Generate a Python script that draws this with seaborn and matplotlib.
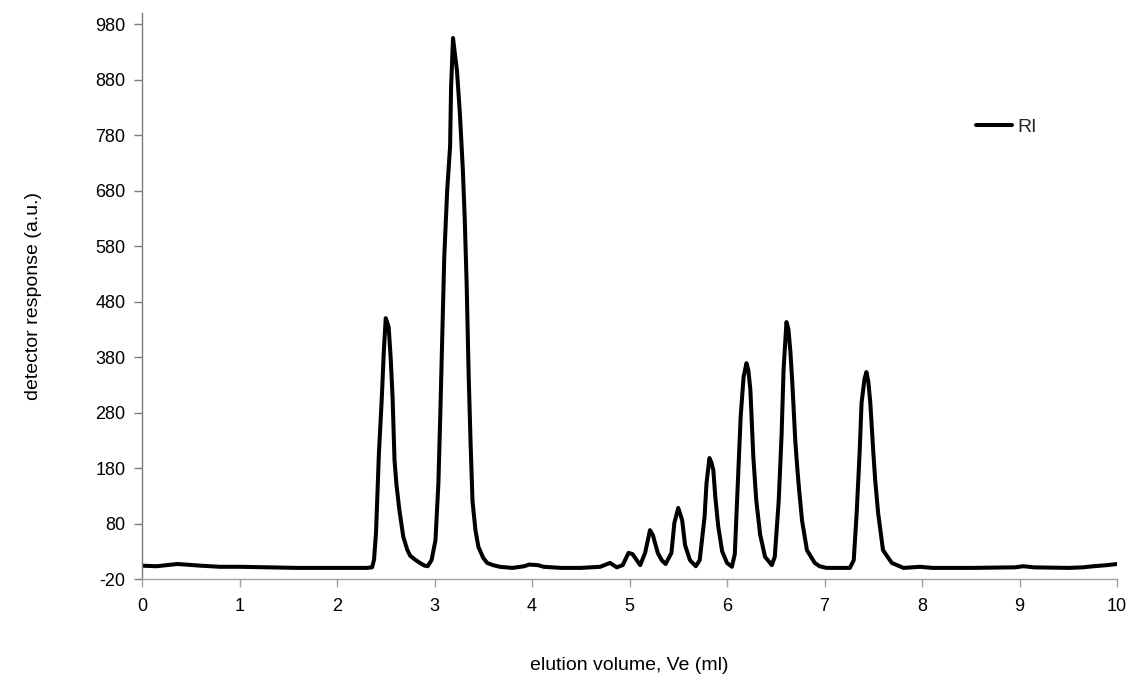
import matplotlib
matplotlib.use("Agg")
import matplotlib.pyplot as plt
import seaborn as sns
import pandas as pd

elution_ml = [0.00, 0.15, 0.30, 0.36, 0.45, 0.60, 0.80, 1.00, 1.30, 1.60, 2.00, 2.30,
              2.36, 2.38, 2.40, 2.43, 2.46, 2.48, 2.50, 2.53, 2.55, 2.57, 2.59, 2.61,
              2.64, 2.68, 2.72, 2.75, 2.80, 2.85, 2.90, 2.93, 2.97, 3.01, 3.04, 3.06,
              3.08, 3.10, 3.13, 3.16, 3.17, 3.19, 3.21, 3.23, 3.26, 3.29, 3.31, 3.33,
              3.35, 3.37, 3.39, 3.42, 3.45, 3.50, 3.54, 3.60, 3.67, 3.80, 3.92, 3.97,
              4.06, 4.12, 4.30, 4.50, 4.70, 4.80, 4.87, 4.93, 4.99, 5.03, 5.07, 5.11,
              5.16, 5.21, 5.24, 5.29, 5.33, 5.37, 5.43, 5.46, 5.50, 5.54, 5.57, 5.62,
              5.68, 5.72, 5.77, 5.79, 5.82, 5.84, 5.86, 5.88, 5.91, 5.95, 6.00, 6.05,
              6.08, 6.11, 6.14, 6.17, 6.20, 6.22, 6.24, 6.27, 6.30, 6.34, 6.39, 6.46,
              6.49, 6.53, 6.56, 6.58, 6.61, 6.63, 6.65, 6.67, 6.70, 6.72, 6.74, 6.77,
              6.82, 6.90, 6.95, 7.02, 7.26, 7.30, 7.33, 7.36, 7.38, 7.41, 7.43, 7.45,
              7.47, 7.50, 7.52, 7.55, 7.60, 7.69, 7.81, 7.98, 8.11, 8.50, 8.95, 9.04,
              9.15, 9.50, 9.65, 9.76, 9.90, 10.00]
ri_response = [4, 3, 6, 7, 6, 4, 2, 2, 1, 0, 0, 0,
               1, 15, 63, 207, 308, 390, 450, 434, 380, 308, 194, 150,
               104, 56, 33, 22, 15, 9, 4, 3, 14, 50, 153, 280,
               420, 560, 680, 760, 866, 955, 925, 897, 820, 720, 630, 510,
               350, 225, 120, 68, 38, 18, 9, 5, 2, 0, 3, 6,
               5, 2, 0, 0, 2, 9, 1, 5, 27, 25, 15, 5,
               27, 68, 59, 27, 14, 7, 27, 81, 108, 86, 41, 14,
               3, 14, 92, 153, 198, 190, 176, 128, 75, 30, 9, 2,
               25, 150, 272, 344, 369, 355, 320, 200, 122, 60, 20, 5,
               20, 120, 240, 357, 443, 430, 390, 333, 230, 182, 140, 85,
               32, 9, 3, 0, 0, 14, 99, 207, 297, 340, 353, 335,
               297, 210, 158, 99, 32, 9, 0, 2, 0, 0, 1, 3,
               1, 0, 1, 3, 5, 7]
series_name = "RI"
x_ticks = list(range(0, 11))
y_ticks = list(range(-20, 981, 100))

df = pd.DataFrame({"x": elution_ml, "y": ri_response})

sns.set_theme(style="ticks")
plt.rcParams["font.family"] = ["Liberation Sans", "DejaVu Sans"]

fig = plt.figure(figsize=(11.3, 6.84), dpi=100)
ax = fig.add_axes([142 / 1130, 1 - 579 / 684, 975 / 1130, 566 / 684])

sns.lineplot(data=df, x="x", y="y", ax=ax, color="black", linewidth=2.9,
             label=series_name, estimator=None)

ax.set_xlim(0, 10)
ax.set_ylim(-20, 1000)
ax.set_xticks(x_ticks)
ax.set_yticks(y_ticks)
ax.set_xticklabels([str(t) for t in x_ticks], fontsize=13)
ax.set_yticklabels([str(t) for t in y_ticks], fontsize=13)

for s in ["top", "right"]:
    ax.spines[s].set_visible(False)
ax.spines["left"].set_color("#7a7a7a")
ax.spines["bottom"].set_color("#a0a0a0")
ax.spines["left"].set_linewidth(1.0)
ax.spines["bottom"].set_linewidth(1.0)
ax.tick_params(axis="x", direction="out", length=6, width=1, colors="#a0a0a0",
               labelcolor="black", pad=8)
ax.tick_params(axis="y", direction="out", length=6, width=1, colors="#7a7a7a",
               labelcolor="black", pad=6)

ax.set_xlabel("elution volume, Ve (ml)", fontsize=14, labelpad=30, color="black")
ax.set_ylabel("detector response (a.u.)", fontsize=14, labelpad=38, color="black")

leg = ax.legend(frameon=False, loc="center left", bbox_to_anchor=(0.855, 0.799),
                borderaxespad=0, borderpad=0, handlelength=1.85, handletextpad=0.3,
                fontsize=14)
for line in leg.get_lines():
    line.set_linewidth(2.9)

fig.savefig("out.png", dpi=100)
